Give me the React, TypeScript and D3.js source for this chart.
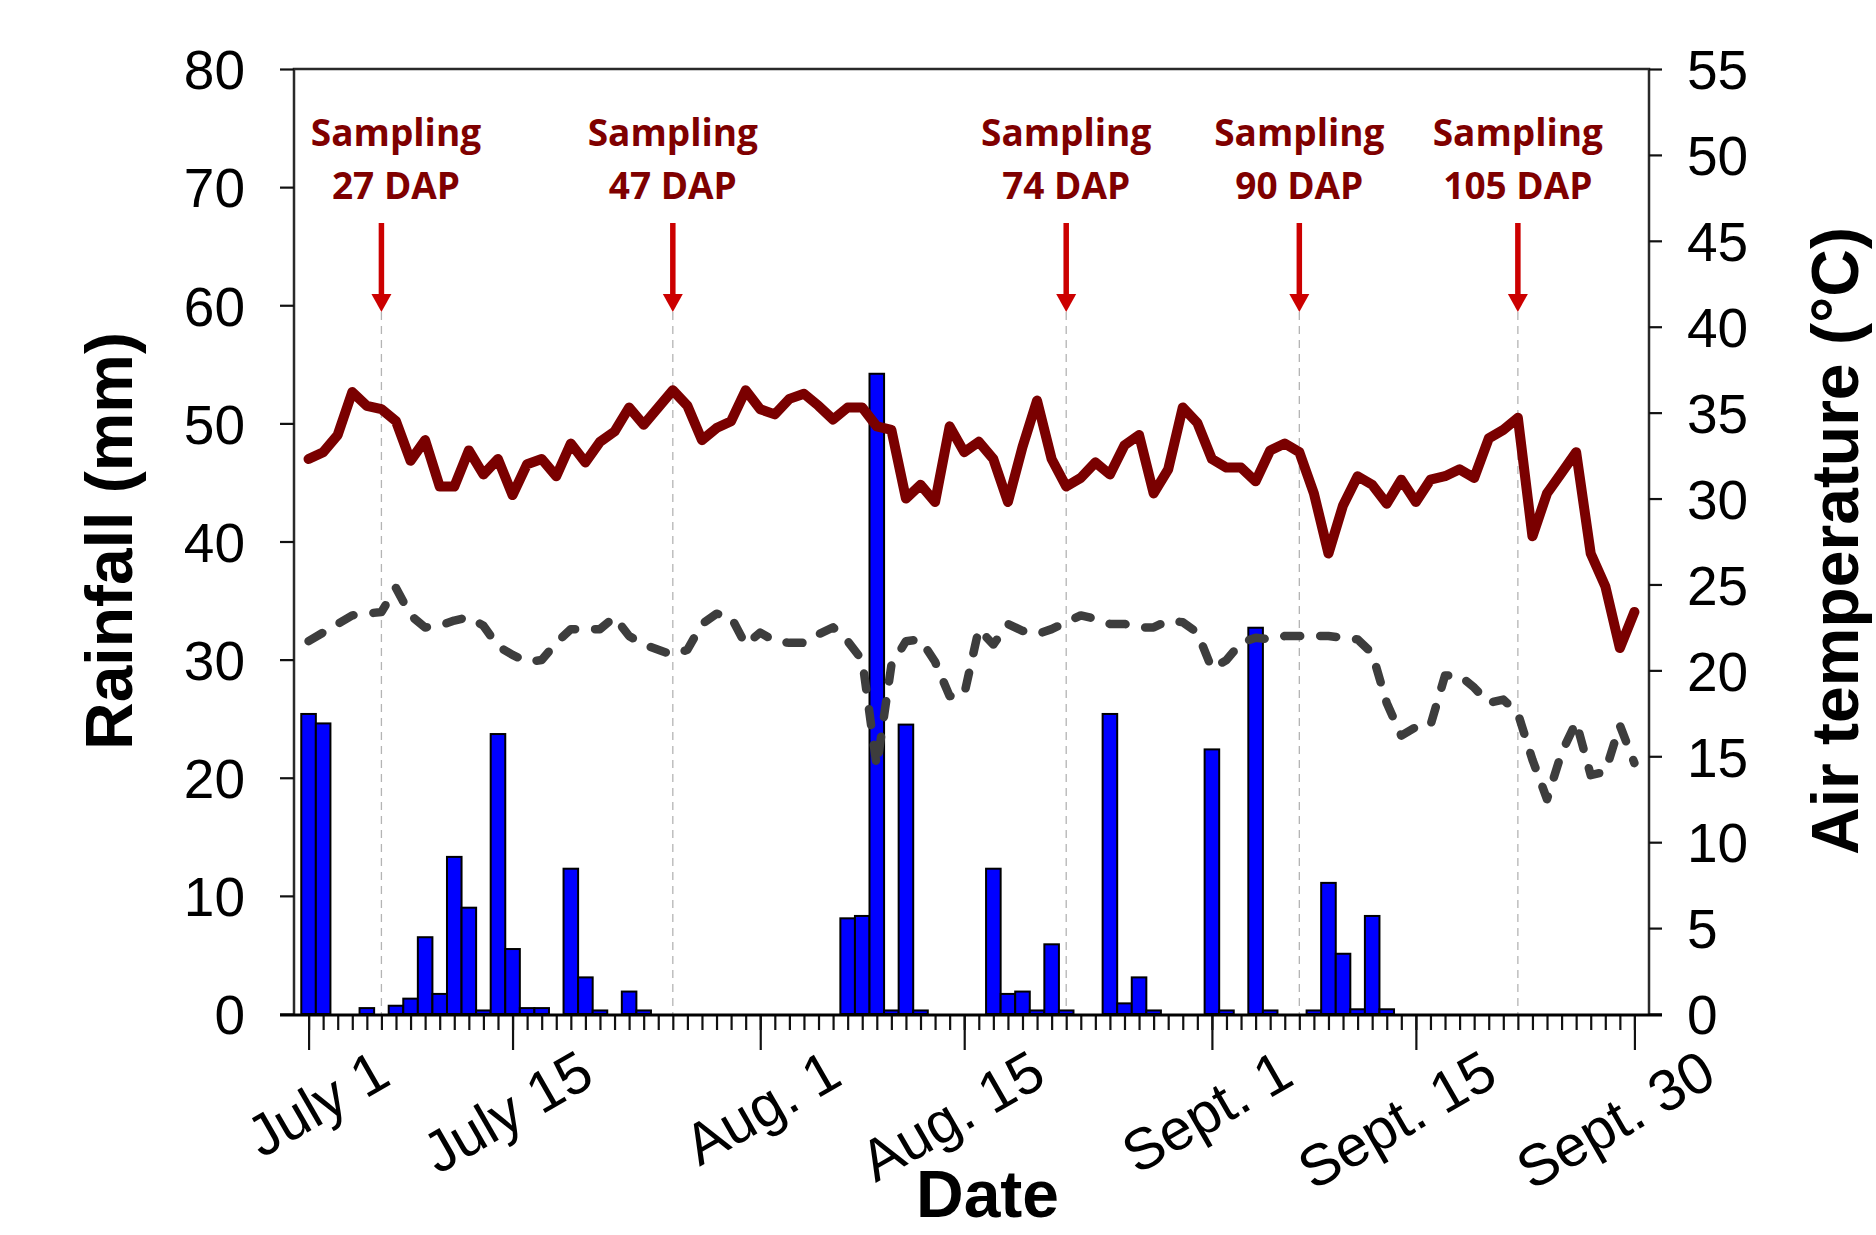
import { useEffect, useRef } from "react";
import * as d3 from "d3";

// daily values, July 1 (day 0) to Sept. 30 (day 91)
const rainfall = [
  25.4, 24.6, 0, 0, 0.5, 0, 0.7, 1.3, 6.5, 1.7,
  13.3, 9.0, 0.3, 23.7, 5.5, 0.5, 0.5, 0, 12.3, 3.1,
  0.3, 0, 1.9, 0.3, 0, 0, 0, 0, 0, 0,
  0, 0, 0, 0, 0, 0, 0, 8.1, 8.3, 54.2,
  0.3, 24.5, 0.3, 0, 0, 0, 0, 12.3, 1.7, 1.9,
  0.3, 5.9, 0.3, 0, 0, 25.4, 0.9, 3.1, 0.3, 0,
  0, 0, 22.4, 0.3, 0, 32.7, 0.3, 0, 0, 0.3,
  11.1, 5.1, 0.4, 8.3, 0.4, 0, 0, 0, 0, 0,
  0, 0, 0, 0, 0, 0, 0, 0, 0, 0,
  0, 0,
];

const maxTemp = [
  32.3, 32.7, 33.7, 36.2, 35.4, 35.2, 34.5, 32.2, 33.4, 30.7,
  30.7, 32.8, 31.4, 32.3, 30.2, 32.0, 32.3, 31.3, 33.2, 32.1,
  33.3, 33.9, 35.3, 34.3, 35.3, 36.3, 35.4, 33.4, 34.1, 34.5,
  36.3, 35.2, 34.9, 35.8, 36.1, 35.4, 34.6, 35.3, 35.3, 34.2,
  34.0, 30.0, 30.8, 29.8, 34.2, 32.7, 33.3, 32.3, 29.8, 33.0,
  35.7, 32.3, 30.7, 31.2, 32.1, 31.4, 33.1, 33.7, 30.3, 31.7,
  35.3, 34.4, 32.3, 31.8, 31.8, 31.0, 32.8, 33.2, 32.7, 30.3,
  26.8, 29.6, 31.3, 30.8, 29.7, 31.1, 29.8, 31.1, 31.3, 31.7,
  31.2, 33.5, 34.0, 34.7, 27.8, 30.3, 31.5, 32.7, 26.8, 24.9,
  21.3, 23.4,
];

const minTemp = [
  21.7, 22.2, 22.7, 23.2, 23.3, 23.4, 24.8, 23.2, 22.5, 22.6,
  22.9, 23.1, 22.6, 21.4, 20.9, 20.5, 20.6, 21.6, 22.4, 22.4,
  22.4, 23.1, 22.0, 21.5, 21.2, 20.9, 21.2, 22.7, 23.3, 23.1,
  21.5, 22.2, 21.7, 21.6, 21.6, 22.1, 22.5, 21.7, 20.6, 14.4,
  20.3, 21.7, 21.8, 20.5, 18.5, 18.6, 22.4, 21.5, 22.7, 22.3,
  22.1, 22.4, 22.8, 23.2, 23.0, 22.7, 22.7, 22.5, 22.5, 22.9,
  22.8, 22.2, 20.1, 20.6, 21.6, 21.9, 21.8, 22.0, 22.0, 22.0,
  22.0, 21.9, 21.8, 21.0, 18.1, 16.2, 16.7, 16.8, 19.7, 19.7,
  19.0, 18.1, 18.3, 17.5, 14.8, 12.5, 15.2, 17.0, 13.9, 14.1,
  16.8, 14.6,
];

const samplingDays = [5, 25, 52, 68, 83];
const samplingLabels = ["27 DAP", "47 DAP", "74 DAP", "90 DAP", "105 DAP"];

const dateTickDays = [0, 14, 31, 45, 62, 76, 91];
const dateTickLabels = ["July 1", "July 15", "Aug. 1", "Aug. 15", "Sept. 1", "Sept. 15", "Sept. 30"];

const rainTicks = [0, 10, 20, 30, 40, 50, 60, 70, 80];
const tempTicks = [0, 5, 10, 15, 20, 25, 30, 35, 40, 45, 50, 55];

const WIDTH = 1876;
const HEIGHT = 1235;
const margin = { top: 69, right: 227, bottom: 220, left: 294 };
const FONT = "'Liberation Sans', Arial, sans-serif";

export default function App() {
  const ref = useRef(null);

  useEffect(() => {
    const svg = d3.select(ref.current);
    svg.selectAll("*").remove();

    const left = margin.left;
    const right = WIDTH - margin.right;
    const top = margin.top;
    const bottom = HEIGHT - margin.bottom;
    const days = rainfall.map((_, i) => i);

    const x = d3.scaleLinear().domain([-1, 92]).range([left, right]);
    const yRain = d3.scaleLinear().domain([0, 80]).range([bottom - 1, top]);
    const yTemp = d3.scaleLinear().domain([0, 55]).range([bottom - 1, top]);

    // sampling guide lines
    svg
      .append("g")
      .selectAll("line")
      .data(samplingDays)
      .join("line")
      .attr("x1", (d) => x(d))
      .attr("x2", (d) => x(d))
      .attr("y1", 312)
      .attr("y2", bottom)
      .attr("stroke", "#b4b4b4")
      .attr("stroke-width", 1.3)
      .attr("stroke-dasharray", "8 6");

    // rainfall bars
    svg
      .append("g")
      .selectAll("rect")
      .data(days.filter((d) => rainfall[d] > 0))
      .join("rect")
      .attr("x", (d) => x(d - 0.5))
      .attr("width", (d) => x(d + 0.5) - x(d - 0.5))
      .attr("y", (d) => yRain(rainfall[d]))
      .attr("height", (d) => yRain(0) - yRain(rainfall[d]))
      .attr("fill", "#0000ff")
      .attr("stroke", "#000")
      .attr("stroke-width", 2);

    // min temperature (dashed)
    svg
      .append("path")
      .datum(days)
      .attr("fill", "none")
      .attr("stroke", "#3d3d3d")
      .attr("stroke-width", 8.5)
      .attr("stroke-dasharray", "16 20")
      .attr("stroke-linecap", "round")
      .attr("stroke-linejoin", "round")
      .attr("d", d3.line().x((d) => x(d)).y((d) => yTemp(minTemp[d])));

    // max temperature
    svg
      .append("path")
      .datum(days)
      .attr("fill", "none")
      .attr("stroke", "#7a0000")
      .attr("stroke-width", 10)
      .attr("stroke-linejoin", "round")
      .attr("stroke-linecap", "round")
      .attr("d", d3.line().x((d) => x(d)).y((d) => yTemp(maxTemp[d])));

    // frame
    svg
      .append("path")
      .attr("d", `M${left},${bottom}V${top}H${right}V${bottom}`)
      .attr("fill", "none")
      .attr("stroke", "#2a2a2a")
      .attr("stroke-width", 2.5);

    const styleAxis = (g) => {
      g.select(".domain").remove();
      g.selectAll("line").attr("stroke", "#111").attr("stroke-width", 2.2);
      g.selectAll("text")
        .attr("font-family", FONT)
        .attr("font-size", 55)
        .attr("fill", "#000");
    };

    svg
      .append("g")
      .attr("transform", `translate(${left},0)`)
      .call(d3.axisLeft(yRain).tickValues(rainTicks).tickSize(14).tickPadding(35).tickFormat(d3.format("d")))
      .call(styleAxis)
      .selectAll("text")
      .attr("dy", "0.36em");

    svg
      .append("g")
      .attr("transform", `translate(${right},0)`)
      .call(d3.axisRight(yTemp).tickValues(tempTicks).tickSize(13).tickPadding(25).tickFormat(d3.format("d")))
      .call(styleAxis)
      .selectAll("text")
      .attr("dy", "0.36em");

    // daily minor ticks
    svg
      .append("g")
      .attr("transform", `translate(0,${bottom})`)
      .call(d3.axisBottom(x).tickValues(days).tickSize(15).tickFormat(() => ""))
      .call(styleAxis);

    // month ticks with slanted labels
    svg
      .append("g")
      .attr("transform", `translate(0,${bottom})`)
      .call(
        d3
          .axisBottom(x)
          .tickValues(dateTickDays)
          .tickSize(35)
          .tickFormat((d) => dateTickLabels[dateTickDays.indexOf(d)]),
      )
      .call(styleAxis)
      .selectAll("text")
      .attr("font-size", 58)
      .attr("text-anchor", "end")
      .attr("y", 0)
      .attr("dy", 0)
      .attr("transform", "translate(84,68) rotate(-30)");

    // x axis line
    svg
      .append("line")
      .attr("x1", left - 14)
      .attr("x2", right + 13)
      .attr("y1", bottom)
      .attr("y2", bottom)
      .attr("stroke", "#000")
      .attr("stroke-width", 3);

    // sampling annotations
    const ann = svg.append("g");
    samplingDays.forEach((d, i) => {
      const ax = x(d);
      const tx = Math.max(ax, left + 102);
      ann
        .append("line")
        .attr("x1", ax)
        .attr("x2", ax)
        .attr("y1", 223)
        .attr("y2", 298)
        .attr("stroke", "#cc0000")
        .attr("stroke-width", 5.5);
      ann
        .append("path")
        .attr("d", `M${ax - 10},${294}L${ax + 10},${294}L${ax},${312}Z`)
        .attr("fill", "#cc0000");
      ann
        .append("text")
        .attr("x", tx)
        .attr("y", 146)
        .attr("text-anchor", "middle")
        .attr("font-family", "'Open Sans', sans-serif")
        .attr("font-weight", 700)
        .attr("font-size", 37)
        .attr("fill", "#7f0000")
        .text("Sampling");
      ann
        .append("text")
        .attr("x", tx)
        .attr("y", 199)
        .attr("text-anchor", "middle")
        .attr("font-family", "'Open Sans', sans-serif")
        .attr("font-weight", 700)
        .attr("font-size", 37)
        .attr("fill", "#7f0000")
        .text(samplingLabels[i]);
    });

    // axis titles
    const title = (tx, ty, rot, label) =>
      svg
        .append("text")
        .attr("transform", `translate(${tx},${ty}) rotate(${rot})`)
        .attr("text-anchor", "middle")
        .attr("font-family", FONT)
        .attr("font-weight", 700)
        .attr("font-size", 66)
        .attr("fill", "#000")
        .text(label);

    title(132, 541, -90, "Rainfall (mm)");
    title(1858, 541, -90, "Air temperature (°C)");
    title((left + right) / 2 + 16, 1217, 0, "Date");
  }, []);

  return (
    <div style={{ position: "absolute", left: 0, top: 0 }}>
      <svg ref={ref} width={WIDTH} height={HEIGHT} style={{ display: "block", background: "#fff" }} />
    </div>
  );
}
